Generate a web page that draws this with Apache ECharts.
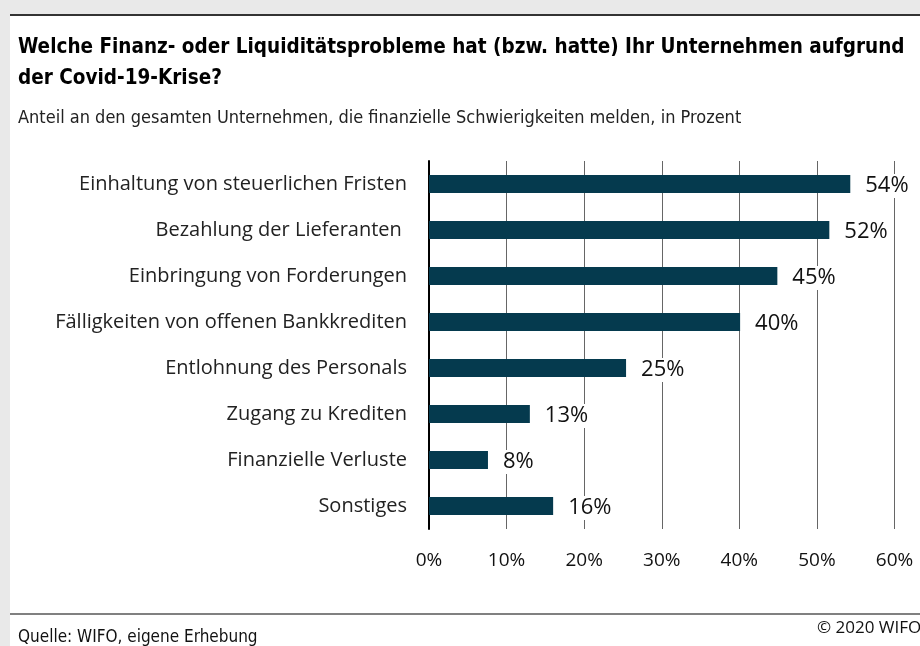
<!DOCTYPE html>
<html>
<head>
<meta charset="utf-8">
<script src="https://cdn.jsdelivr.net/npm/echarts@6/dist/echarts.min.js"></script>
<style>
  html, body { margin: 0; padding: 0; background: #e9e9e9; }
  #chart { width: 920px; height: 646px; }
</style>
</head>
<body>
<div id="chart"></div>
<script>
// Kategorien und Werte (in Prozent)
const categories = [
  'Einhaltung von steuerlichen Fristen',
  'Bezahlung der Lieferanten ',
  'Einbringung von Forderungen',
  'Fälligkeiten von offenen Bankkrediten',
  'Entlohnung des Personals',
  'Zugang zu Krediten',
  'Finanzielle Verluste',
  'Sonstiges'
];
const values = [54.3, 51.6, 44.9, 40.1, 25.4, 13.0, 7.6, 16.0];

const chart = echarts.init(document.getElementById('chart'));
const narrow = '"DejaVu Sans Condensed", sans-serif';
const sans = '"Open Sans", sans-serif';

chart.setOption({
  backgroundColor: 'transparent',
  animation: false,
  graphic: [
    { type: 'rect', shape: { x: 10, y: 15, width: 910, height: 631 }, style: { fill: '#fff' }, z: -10 },
    { type: 'line', shape: { x1: 10, y1: 15, x2: 920, y2: 15 }, style: { stroke: '#333', lineWidth: 2 } },
    { type: 'line', shape: { x1: 10, y1: 614, x2: 920, y2: 614 }, style: { stroke: '#808080', lineWidth: 2 } },
    { type: 'text', left: 18, top: 629, style: { text: 'Quelle: WIFO, eigene Erhebung', font: '17px ' + narrow, fill: '#111' } },
    { type: 'text', left: 817, top: 620, style: { text: '© 2020 WIFO', font: '17px ' + sans, fill: '#111' } }
  ],
  title: [
    {
      text: 'Welche Finanz- oder Liquiditätsprobleme hat (bzw. hatte) Ihr Unternehmen aufgrund\nder Covid-19-Krise?',
      left: 18, top: 32, padding: 0,
      textStyle: { fontFamily: narrow, fontSize: 20.5, fontWeight: 'bold', color: '#000', lineHeight: 31 }
    },
    {
      text: 'Anteil an den gesamten Unternehmen, die finanzielle Schwierigkeiten melden, in Prozent',
      left: 18, top: 109, padding: 0,
      textStyle: { fontFamily: narrow, fontSize: 18, fontWeight: 'normal', color: '#222' }
    }
  ],
  grid: { left: 429, right: 25.5, top: 161, bottom: 117, containLabel: false },
  xAxis: {
    type: 'value',
    min: 0, max: 60, interval: 10,
    axisLine: { show: false },
    axisTick: { show: false },
    axisLabel: { formatter: '{value}%', margin: 22, fontSize: 19, color: '#111', fontFamily: sans },
    splitLine: { lineStyle: { color: '#666', width: 1 } }
  },
  yAxis: {
    type: 'category',
    data: categories,
    inverse: true,
    axisLine: { lineStyle: { color: '#000', width: 2 } },
    axisTick: { show: false },
    axisLabel: { margin: 22, fontSize: 20, color: '#222', fontFamily: sans }
  },
  series: [{
    type: 'bar',
    data: values,
    barWidth: 18,
    itemStyle: { color: '#053a4e' },
    label: {
      show: true,
      position: 'right',
      distance: 13,
      formatter: p => Math.round(p.value) + '%',
      fontSize: 22,
      color: '#111',
      fontFamily: sans,
      backgroundColor: '#fff',
      padding: [2, 2, 0, 2],
      offset: [0, 2]
    }
  }]
});
</script>
</body>
</html>
